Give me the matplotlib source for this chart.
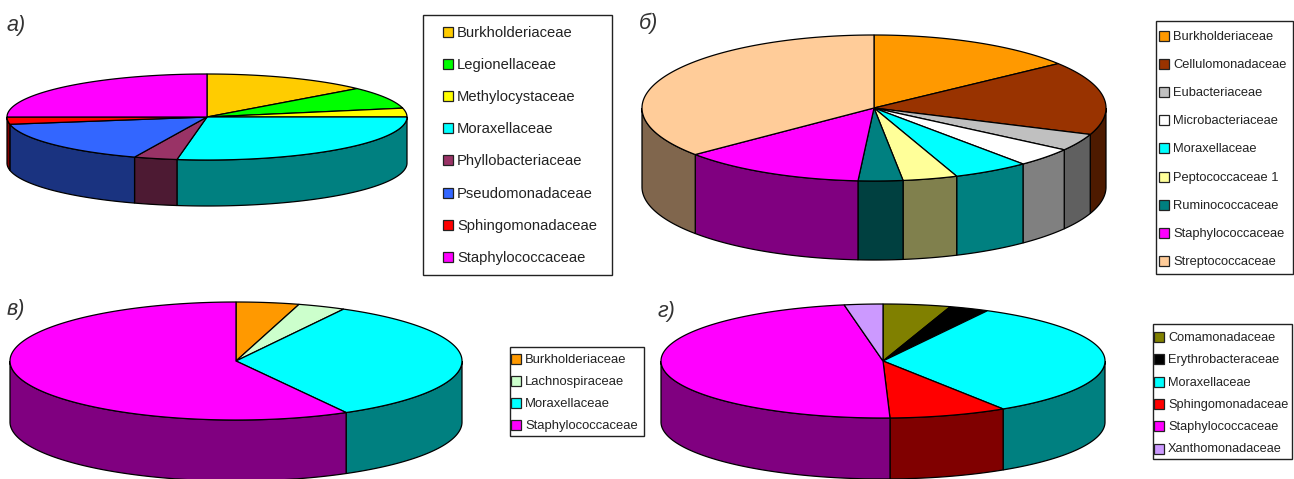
import numpy as np
import matplotlib
matplotlib.use('Agg')
import matplotlib.pyplot as plt
from matplotlib.patches import Polygon, Rectangle

plt.rcParams['font.family'] = ['Liberation Sans', 'DejaVu Sans']

# а)
labels_a = ['Burkholderiaceae', 'Legionellaceae', 'Methylocystaceae', 'Moraxellaceae',
            'Phyllobacteriaceae', 'Pseudomonadaceae', 'Sphingomonadaceae', 'Staphylococcaceae']
values_a = [13.5, 8.2, 3.3, 27.4, 3.5, 16.4, 2.7, 25.0]
colors_a = ['#FFCC00', '#00FF00', '#FFFF00', '#00FFFF', '#993366', '#3366FF', '#FF0000', '#FF00FF']

# б)
labels_b = ['Burkholderiaceae', 'Cellulomonadaceae', 'Eubacteriaceae', 'Microbacteriaceae',
            'Moraxellaceae', 'Peptococcaceae 1', 'Ruminococcaceae', 'Staphylococcaceae',
            'Streptococcaceae']
values_b = [14.6, 16.3, 3.8, 4.2, 5.3, 3.8, 3.1, 12.9, 36.0]
colors_b = ['#FF9900', '#993300', '#C0C0C0', '#FFFFFF', '#00FFFF', '#FFFF99', '#008080',
            '#FF00FF', '#FFCC99']

# в)
labels_c = ['Burkholderiaceae', 'Lachnospiraceae', 'Moraxellaceae', 'Staphylococcaceae']
values_c = [4.5, 3.4, 34.0, 58.1]
colors_c = ['#FF9900', '#CCFFCC', '#00FFFF', '#FF00FF']

# г)
labels_d = ['Comamonadaceae', 'Erythrobacteraceae', 'Moraxellaceae', 'Sphingomonadaceae',
            'Staphylococcaceae', 'Xanthomonadaceae']
values_d = [4.9, 2.9, 33.1, 8.6, 47.7, 2.8]
colors_d = ['#808000', '#000000', '#00FFFF', '#FF0000', '#FF00FF', '#CC99FF']


def arc(cx, cy, rx, ry, t0, t1):
    # angles in degrees, clockwise from the top of the ellipse
    t = np.radians(np.linspace(t0, t1, max(int(abs(t1 - t0)) * 2, 2) + 1))
    return np.c_[cx + rx * np.sin(t), cy - ry * np.cos(t)]


def pie3d(ax, values, colors, cx, cy, rx, ry, depth):
    edges = np.cumsum([0] + list(values)) / sum(values) * 360
    # walls first, only the front half can be seen
    for i, c in enumerate(colors):
        t0 = max(edges[i], 90)
        t1 = min(edges[i + 1], 270)
        if t1 <= t0:
            continue
        top = arc(cx, cy, rx, ry, t0, t1)
        bottom = top[::-1] + [0, depth]
        dark = np.array(matplotlib.colors.to_rgb(c)) * 0.5
        ax.add_patch(Polygon(np.r_[top, bottom], fc=dark, ec='black', lw=0.9))
    for i, c in enumerate(colors):
        pts = np.r_[[[cx, cy]], arc(cx, cy, rx, ry, edges[i], edges[i + 1])]
        ax.add_patch(Polygon(pts, fc=c, ec='black', lw=0.9))


def legend_box(ax, labels, colors, x0, y0, x1, y1, text_x, first_y, step, fs):
    ax.add_patch(Rectangle((x0, y0), x1 - x0, y1 - y0, fc='white', ec='#222222', lw=1.0))
    for i, (lab, c) in enumerate(zip(labels, colors)):
        y = first_y + i * step
        ax.add_patch(Rectangle((text_x - 14, y - 5), 10, 10, fc=c, ec='#222222', lw=0.9))
        ax.text(text_x, y + 1, lab, fontsize=fs, va='center', ha='left', color='#222222')


fig = plt.figure(figsize=(12.94, 4.79), dpi=100)
ax = fig.add_axes([0, 0, 1, 1])
ax.set_xlim(0, 1294)
ax.set_ylim(479, 0)
ax.axis('off')

pie3d(ax, values_a, colors_a, 207, 117, 200, 43, 46)
pie3d(ax, values_b, colors_b, 874, 108, 232, 73, 79)
pie3d(ax, values_c, colors_c, 236, 361, 226, 59, 61)
pie3d(ax, values_d, colors_d, 883, 361, 222, 57, 61)

legend_box(ax, labels_a, colors_a, 423, 15, 612, 275, 457, 32, 32.1, 10.6)
legend_box(ax, labels_b, colors_b, 1156, 21, 1293, 274, 1173, 36, 28.1, 9.3)
legend_box(ax, labels_c, colors_c, 510, 347, 644, 436, 525, 359, 22, 9.4)
legend_box(ax, labels_d, colors_d, 1153, 324, 1292, 459, 1168, 337, 22.3, 9.2)

for s, x, y in [('а)', 7, 25), ('б)', 639, 23), ('в)', 7, 310), ('г)', 658, 311)]:
    ax.text(x, y, s, fontsize=15.5, style='italic', va='center', ha='left', color='#333333')

fig.savefig('out.png', dpi=100)
